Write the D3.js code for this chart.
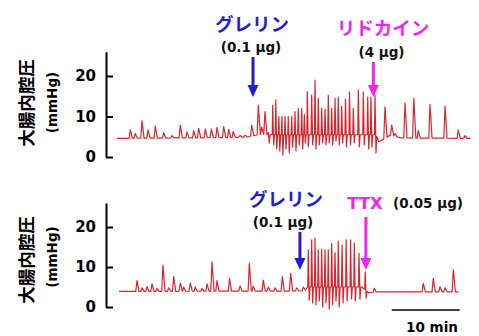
<!DOCTYPE html>
<html>
<head>
<meta charset="utf-8">
<script src="https://cdn.jsdelivr.net/npm/d3@7"></script>
<style>
  body { margin: 0; background: #fff; }
  svg { display: block; }
  .num { font-family: "DejaVu Sans", sans-serif; font-weight: bold; }
  .jp { font-family: "Noto Sans CJK JP", sans-serif; font-weight: bold; }
</style>
</head>
<body>
<svg id="chart" width="479" height="336"></svg>
<script>
// time in minutes, pressure in mmHg

// upper trace: ghrelin then lidocaine
const topStart = 0, topEnd = 52;
const topBaseT = [0, 17, 19.5, 21, 22.2, 38.1, 38.5, 39.2, 40.2, 41.8, 52];
const topBaseV = [4.6, 4.8, 5.0, 5.6, 5.5, 5.5, 3.8, 4.4, 5.4, 4.7, 4.6];
const topSpikeT = [1.96, 2.69, 3.68, 4.56, 5.63, 6.87, 8.09, 9.31, 10.29, 11.28, 12.01, 12.99, 13.87, 14.71, 15.69, 16.43, 17.10, 18.09, 18.82, 19.81, 20.78, 21.28, 21.76,
  39.41, 40.40, 40.88, 42.35, 43.65, 44.31, 46.03, 48.24, 50.19, 51.18];
const topSpikeP = [6.7, 5.8, 9.0, 6.7, 7.7, 6.0, 5.3, 7.9, 6.2, 6.5, 7.1, 6.9, 6.9, 7.3, 7.5, 6.8, 6.3, 5.3, 5.4, 7.9, 12.8, 7.4, 11.2,
  12.4, 7.9, 5.8, 13.4, 14.5, 6.5, 13.0, 12.5, 6.7, 5.3];
const topBurstT = [22.25, 22.90, 23.35, 23.80, 24.25, 24.71, 25.19, 25.69, 26.18, 26.66, 27.16, 27.55, 27.99, 28.63, 29.12, 29.60,
  30.10, 30.59, 31.07, 31.57, 32.06, 32.54, 33.04, 33.60, 34.19, 34.75, 35.49, 36.22, 36.87, 37.35, 37.94];
const topBurstP = [6.0, 12.8, 14.1, 10.0, 10.0, 10.0, 10.0, 10.0, 11.2, 12.0, 12.0, 10.5, 16.1, 15.3, 19.0, 14.5,
  12.0, 11.8, 15.3, 12.0, 14.5, 14.8, 12.5, 14.3, 16.1, 12.0, 16.5, 16.1, 14.8, 14.8, 15.3];
const topBurstQ = [3.5, 3.0, 2.0, 1.5, 0.5, 2.0, 1.0, 2.5, 1.5, 3.0, 2.0, 3.5, 2.5, 3.0, 2.0, 3.0,
  3.5, 3.0, 3.5, 3.0, 4.0, 3.0, 3.5, 2.5, 3.0, 3.5, 2.5, 3.0, 2.0, 2.5, 1.0];

// lower trace: ghrelin then TTX
const bottomStart = 0.3, bottomEnd = 50.2;
const bottomBaseT = [0.3, 27.6, 28.0, 36.0, 37.0, 38.5, 50.2];
const bottomBaseV = [3.9, 4.0, 5.0, 5.0, 3.6, 3.8, 3.8];
const bottomSpikeT = [2.94, 3.68, 4.41, 5.15, 5.88, 6.76, 7.60, 8.34, 9.31, 9.81, 10.78, 11.51, 12.50, 13.24, 13.97, 14.71, 16.54,
  18.09, 19.46, 20.04, 21.51, 22.25, 23.24, 24.31, 25.54, 26.43, 27.40, 37.84, 45.04, 46.51, 47.50, 48.24, 49.46];
const bottomSpikeP = [6.6, 4.8, 5.1, 5.8, 4.6, 10.5, 4.8, 7.6, 6.0, 5.0, 6.0, 5.0, 4.6, 5.8, 11.3, 6.6, 7.2,
  5.3, 10.9, 5.2, 6.7, 5.0, 4.8, 7.6, 8.4, 4.8, 5.0, 4.7, 5.9, 7.2, 5.1, 4.8, 9.3];
const bottomBurstT = [28.13, 28.63, 29.12, 29.60, 30.10, 30.59, 31.07, 31.57, 32.06, 32.54, 33.10, 33.70, 34.35, 34.90, 35.59, 36.50];
const bottomBurstP = [14.3, 16.8, 17.2, 14.3, 14.5, 14.3, 14.3, 15.9, 13.6, 16.5, 15.5, 16.8, 16.8, 16.0, 13.4, 8.8];
const bottomBurstQ = [1.7, 1.0, 0.5, 1.5, 0.0, 1.0, -0.5, 0.5, 1.5, 0.0, 1.0, 1.5, 2.0, 1.5, 2.0, 2.2];

const yTicks = [0, 10, 20];
const yTitle = "大腸内腔圧";
const yUnit = "(mmHg)";

// drug applications: [time, name, dose]
const topDrugs = [[20.0, "グレリン", "(0.1 μg)"], [37.7, "リドカイン", "(4 μg)"]];
const bottomDrugs = [[26.9, "グレリン", "(0.1 μg)"], [36.6, "TTX", "(0.05 μg)"]];
const scaleBarStart = 40.4, scaleBarLen = 10, scaleBarLabel = "10 min";

const BLUE = "#1f1fcf", MAGENTA = "#f025f0", RED = "#d8262c";

const svg = d3.select("#chart");
const x = d3.scaleLinear().domain([0, 52]).range([117, 470.6]);

function tracePoints(start, end, baseT, baseV, spikeT, spikeP, burstT, burstP, burstQ) {
  const base = d3.scaleLinear().domain(baseT).range(baseV).clamp(true);
  const pts = [], windows = [];
  spikeT.forEach((t, i) => {
    pts.push([t - 0.18, base(t - 0.18)], [t, spikeP[i]], [t + 0.3, base(t + 0.3)]);
    windows.push([t - 0.18, t + 0.3]);
  });
  burstT.forEach((t, i) => {
    pts.push([t - 0.08, base(t - 0.08)], [t, burstP[i]], [t + 0.14, burstQ[i]], [t + 0.26, base(t + 0.26)]);
    windows.push([t - 0.08, t + 0.26]);
  });
  [start, ...baseT, end].forEach(t => {
    if (t >= start && t <= end && !windows.some(w => t > w[0] && t < w[1])) pts.push([t, base(t)]);
  });
  return pts.sort((a, b) => a[0] - b[0]);
}

const panels = [
  {
    y: d3.scaleLinear().domain([0, 26]).range([157, 51.7]),
    pts: tracePoints(topStart, topEnd, topBaseT, topBaseV, topSpikeT, topSpikeP, topBurstT, topBurstP, topBurstQ),
    titleY: 103, unitY: 102.5,
    drugs: topDrugs,
    labels: [
      {name: [252, 23], dose: [251, 47], arrow: [57, 97], color: BLUE},
      {name: [383, 27], dose: [381.5, 52], arrow: [62, 97], color: MAGENTA}
    ]
  },
  {
    y: d3.scaleLinear().domain([0, 26]).range([307, 203]),
    pts: tracePoints(bottomStart, bottomEnd, bottomBaseT, bottomBaseV, bottomSpikeT, bottomSpikeP, bottomBurstT, bottomBurstP, bottomBurstQ),
    titleY: 260, unitY: 257,
    drugs: bottomDrugs,
    labels: [
      {name: [286, 198], dose: [283, 222], arrow: [232, 270], color: BLUE},
      {name: [365, 203], dose: [428, 203], arrow: [217, 270], color: MAGENTA, latin: true}
    ]
  }
];

panels.forEach(p => {
  // y axis with inward ticks
  const axis = svg.append("g")
    .attr("transform", "translate(106,0)")
    .call(d3.axisLeft(p.y).tickValues(yTicks).tickSizeInner(-7).tickSizeOuter(0).tickPadding(10));
  axis.selectAll("path, line").attr("stroke", "#000").attr("stroke-width", 2);
  axis.selectAll("text")
    .attr("class", "num")
    .attr("font-size", 15)
    .attr("fill", "#000");

  svg.append("text")
    .attr("class", "jp")
    .attr("font-size", 17.5)
    .attr("text-anchor", "middle")
    .attr("dominant-baseline", "central")
    .attr("transform", `translate(25,${p.titleY}) rotate(-90)`)
    .text(yTitle);
  svg.append("text")
    .attr("class", "num")
    .attr("font-size", 13.5)
    .attr("text-anchor", "middle")
    .attr("dominant-baseline", "central")
    .attr("transform", `translate(52,${p.unitY}) rotate(-90)`)
    .text(yUnit);

  // pressure trace
  svg.append("path")
    .datum(p.pts)
    .attr("fill", "none")
    .attr("stroke", RED)
    .attr("stroke-width", 1.2)
    .attr("stroke-linejoin", "round")
    .attr("d", d3.line().x(d => x(d[0])).y(d => p.y(d[1])));

  // drug arrows and labels
  p.drugs.forEach((d, i) => {
    const lab = p.labels[i];
    const ax = x(d[0]);
    const [top, tip] = lab.arrow;
    svg.append("line")
      .attr("x1", ax).attr("x2", ax)
      .attr("y1", top).attr("y2", tip - 9)
      .attr("stroke", lab.color).attr("stroke-width", 3);
    svg.append("path")
      .attr("d", `M${ax - 5.5},${tip - 12}L${ax + 5.5},${tip - 12}L${ax},${tip}Z`)
      .attr("fill", lab.color);
    svg.append("text")
      .attr("class", lab.latin ? "num" : "jp")
      .attr("font-size", lab.latin ? 16.5 : 18.5)
      .attr("fill", lab.color)
      .attr("text-anchor", "middle")
      .attr("dominant-baseline", "central")
      .attr("x", lab.name[0]).attr("y", lab.name[1])
      .text(d[1]);
    svg.append("text")
      .attr("class", "num")
      .attr("font-size", 13.5)
      .attr("fill", "#111")
      .attr("text-anchor", "middle")
      .attr("dominant-baseline", "central")
      .attr("x", lab.dose[0]).attr("y", lab.dose[1])
      .text(d[2]);
  });
});

// time scale bar
svg.append("line")
  .attr("x1", x(scaleBarStart)).attr("x2", x(scaleBarStart + scaleBarLen))
  .attr("y1", 310).attr("y2", 310)
  .attr("stroke", "#000").attr("stroke-width", 1.6);
svg.append("text")
  .attr("class", "num")
  .attr("font-size", 13.5)
  .attr("text-anchor", "middle")
  .attr("dominant-baseline", "central")
  .attr("x", 432).attr("y", 327)
  .text(scaleBarLabel);
</script>
</body>
</html>
